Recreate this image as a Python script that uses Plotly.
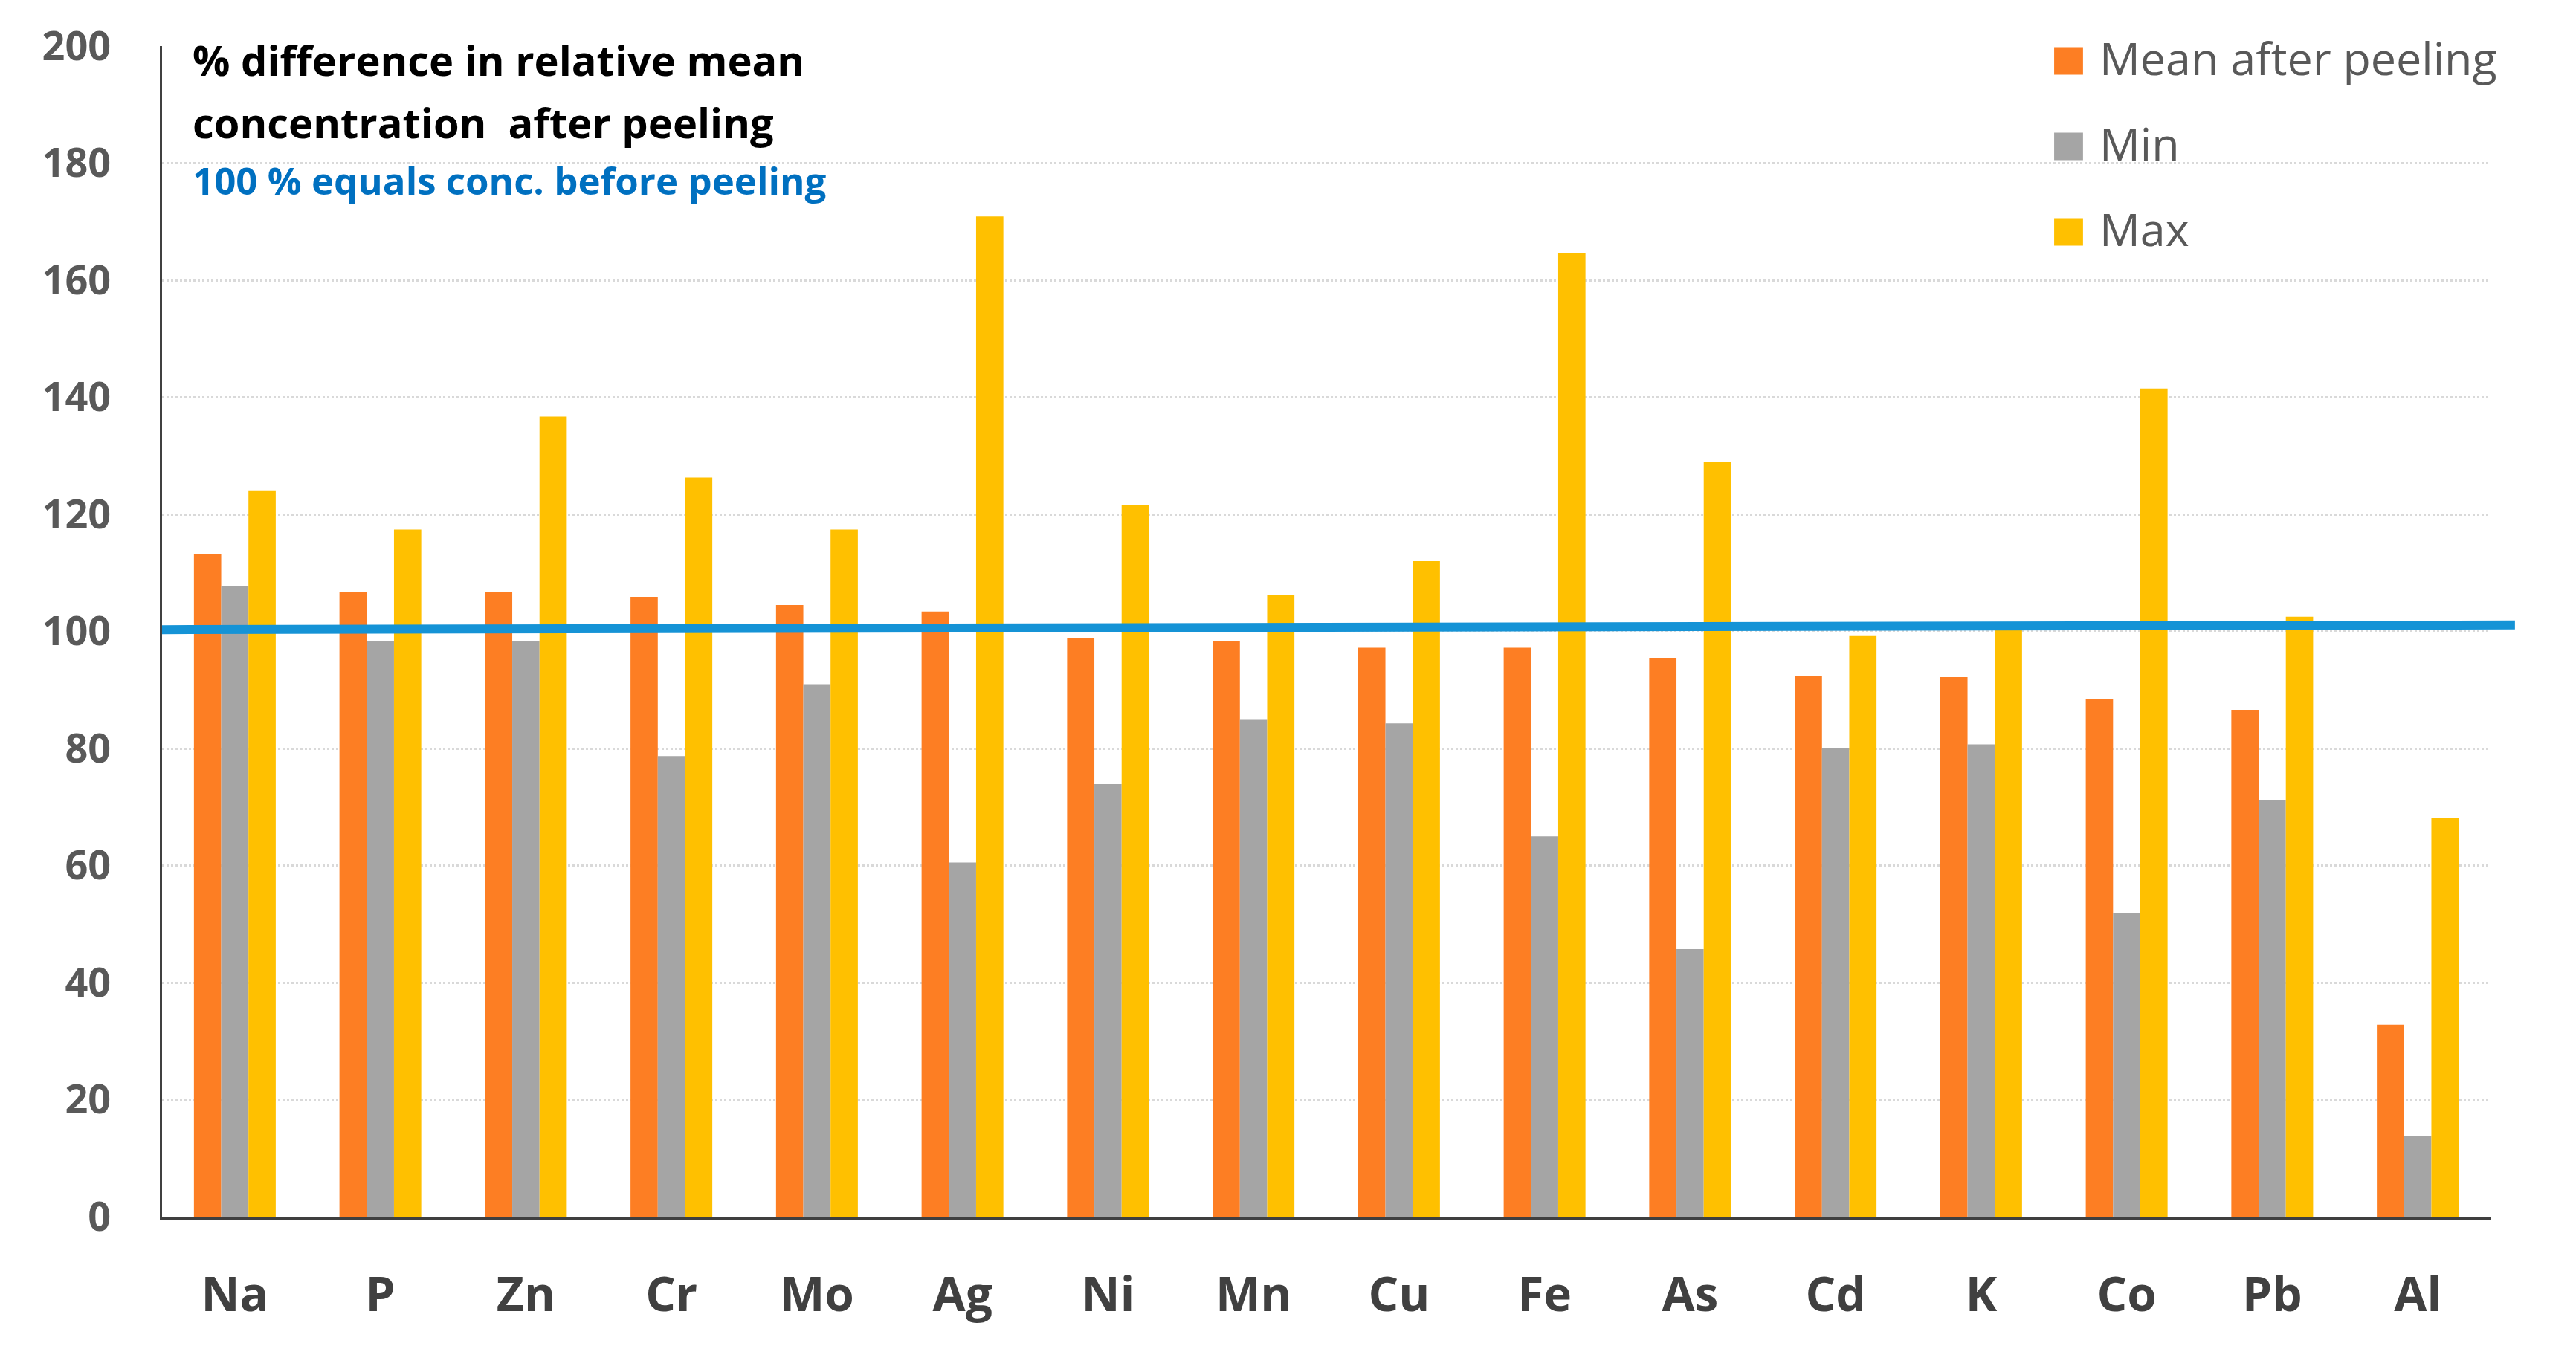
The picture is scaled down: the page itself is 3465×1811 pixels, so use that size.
import plotly.graph_objects as go

# ---- data ----
elements = ["Na", "P", "Zn", "Cr", "Mo", "Ag", "Ni", "Mn", "Cu", "Fe", "As", "Cd", "K", "Co", "Pb", "Al"]
mean_after = [113.2, 106.7, 106.7, 105.9, 104.5, 103.4, 98.9, 98.3, 97.2, 97.2, 95.5, 92.4, 92.2, 88.5, 86.6, 32.8]
min_vals = [107.8, 98.3, 98.3, 78.7, 91.0, 60.5, 73.9, 84.9, 84.3, 65.0, 45.7, 80.1, 80.7, 51.8, 71.1, 13.7]
max_vals = [124.1, 117.4, 136.7, 126.3, 117.4, 170.9, 121.6, 106.2, 112.0, 164.7, 128.9, 99.2, 100.6, 141.5, 102.5, 68.1]
series_names = ["Mean after peeling", "Min", "Max"]
y_ticks = [0, 20, 40, 60, 80, 100, 120, 140, 160, 180, 200]
ref_line = [100.3, 101.1]   # 100 % reference line (start, end)

colors = ["#FD7E23", "#A5A5A5", "#FFC000"]
FONT = "Open Sans"

fig = go.Figure()
for name, vals, col in zip(series_names, [mean_after, min_vals, max_vals], colors):
    fig.add_trace(go.Bar(x=elements, y=vals, name=name, marker=dict(color=col, line=dict(width=0)),
                         showlegend=False))

fig.update_layout(
    width=3465, height=1811,
    margin=dict(l=218, r=115, t=62, b=174),
    paper_bgcolor="white", plot_bgcolor="white",
    barmode="group", bargap=0.438, bargroupgap=0,
    showlegend=False,
    xaxis=dict(type="category", range=[-0.5, len(elements) - 0.5],
               showline=True, linecolor="#3F3F3F", linewidth=5,
               ticks="", showgrid=False, ticklabelstandoff=45,
               tickfont=dict(family=FONT, size=64, color="#404040", weight="bold")),
    yaxis=dict(range=[0, 200], tickvals=y_ticks, showline=True, linecolor="#404040", linewidth=3,
               ticks="", showgrid=True, gridcolor="#D9D9D9", gridwidth=3, griddash="dot",
               zeroline=False, ticklabelstandoff=55,
               tickfont=dict(family=FONT, size=54, color="#595959", weight="bold")),
)

# white patch hiding gridlines behind the title block (as in the reference)
fig.add_shape(type="rect", xref="paper", yref="y", x0=0.003, x1=0.3505, y0=170, y1=205,
              fillcolor="white", line=dict(width=0), layer="between")

# 100 % reference line
fig.add_shape(type="line", xref="paper", yref="y", x0=0, x1=1.0105, y0=ref_line[0], y1=ref_line[1],
              line=dict(color="#1593D6", width=12), layer="above")

# title block
fig.add_annotation(xref="paper", yref="paper", x=0.0125, y=0.9885, xanchor="left", yanchor="middle",
                   text="<b>% difference in relative mean</b>", showarrow=False,
                   font=dict(family=FONT, size=56, color="#000000"))
fig.add_annotation(xref="paper", yref="paper", x=0.0125, y=0.9355, xanchor="left", yanchor="middle",
                   text="<b>concentration  after peeling</b>", showarrow=False,
                   font=dict(family=FONT, size=56, color="#000000"))
fig.add_annotation(xref="paper", yref="paper", x=0.0125, y=0.8855, xanchor="left", yanchor="middle",
                   text="<b>100 % equals conc. before peeling</b>", showarrow=False,
                   font=dict(family=FONT, size=51, color="#0070C0"))

# legend (large square swatches + labels)
legend_rows = [0.9873, 0.9143, 0.8413]
half_h = 0.01175
for name, col, yc in zip(series_names, colors, legend_rows):
    fig.add_shape(type="rect", xref="paper", yref="paper", x0=0.8126, x1=0.8250,
                  y0=yc - half_h, y1=yc + half_h, fillcolor=col, line=dict(width=0))
    fig.add_annotation(xref="paper", yref="paper", x=0.8314, y=yc + 0.003, xanchor="left",
                       yanchor="middle", text=name, showarrow=False,
                       font=dict(family=FONT, size=61, color="#595959"))

fig.write_html("out.html", config={"displayModeBar": False},
               post_script="document.body.style.margin='0';")
